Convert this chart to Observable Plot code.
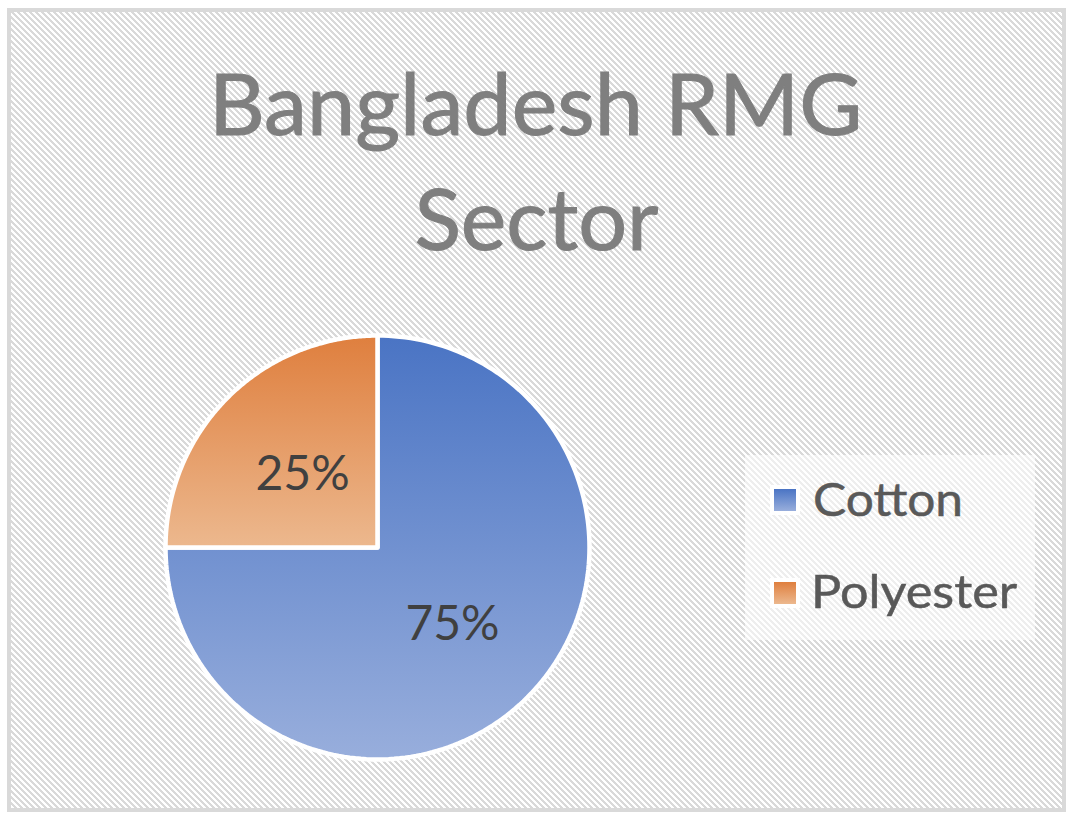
<!DOCTYPE html>
<html>
<head>
<meta charset="utf-8">
<script src="https://cdn.jsdelivr.net/npm/d3@7"></script>
<script src="https://cdn.jsdelivr.net/npm/@observablehq/plot@0.6"></script>
<style>
  html, body { margin: 0; padding: 0; background: #fff; }
  #chart { position: relative; width: 1074px; height: 820px; overflow: hidden; font-family: Lato, "Open Sans", sans-serif; }
  #frame { position: absolute; left: 7px; top: 8px; width: 1051px; height: 796px; border: 4px solid #d9d9d9;
    background-color: #fff; image-rendering: pixelated; }
  .txt { position: absolute; white-space: nowrap; line-height: normal; margin: 0; }
  #legendBox { position: absolute; left: 745px; top: 455px; width: 290px; height: 185px; background: rgba(255,255,255,0.55); }
  .sw { position: absolute; width: 22px; height: 22px; border: 4px solid #fff; }
  #plotHolder { position: absolute; left: 0; top: 290px; }
</style>
</head>
<body>
<svg width="0" height="0" style="position:absolute">
  <defs>
    <linearGradient id="grad-cotton" x1="0" y1="0" x2="0" y2="1">
      <stop offset="0" stop-color="#4a74c4"/>
      <stop offset="1" stop-color="#98aedc"/>
    </linearGradient>
    <linearGradient id="grad-polyester" x1="0" y1="0" x2="0" y2="1">
      <stop offset="0" stop-color="#df7f3e"/>
      <stop offset="1" stop-color="#ecb88e"/>
    </linearGradient>
  </defs>
</svg>
<div id="chart">
  <div id="frame"></div>
  <div id="legendBox"></div>
  <div id="plotHolder"></div>
</div>
<script>
// ---- data ----
const categories = ["Cotton", "Polyester"];
const shares = [75, 25];
const shareLabels = ["75%", "25%"];
const gradients = ["url(#grad-cotton)", "url(#grad-polyester)"];
const legendGradients = ["linear-gradient(#4a74c4, #98aedc)", "linear-gradient(#df7f3e, #ecb88e)"];
const titleLines = ["Bangladesh RMG", "Sector"];

// ---- hatched chart-area background (light downward diagonal) ----
(function () {
  const c = document.createElement("canvas");
  c.width = 6; c.height = 6;
  const g = c.getContext("2d");
  g.fillStyle = "#ffffff"; g.fillRect(0, 0, 6, 6);
  g.fillStyle = "#d9d9d9";
  for (let y = 0; y < 6; ++y) for (let x = 0; x < 6; ++x) if (((x - y) % 6 + 6) % 6 < 3) g.fillRect(x, y, 1, 1);
  const f = document.getElementById("frame");
  f.style.backgroundImage = `url(${c.toDataURL()})`;
  f.style.backgroundSize = "6px 6px";
})();

// ---- pie geometry from data ----
const arcs = d3.pie().sort(null).value(d => d)(shares);
const slices = arcs.map((a, i) => {
  const pts = [{x: 0, y: 0}];
  const n = 180;
  for (let k = 0; k <= n; ++k) {
    const t = a.startAngle + (a.endAngle - a.startAngle) * k / n;
    pts.push({x: Math.sin(t), y: Math.cos(t)});
  }
  pts.push({x: 0, y: 0});
  return {name: categories[i], pts};
});
const labelData = arcs.map((a, i) => {
  const m = (a.startAngle + a.endAngle) / 2;
  return {x: 0.5 * Math.sin(m), y: 0.5 * Math.cos(m), label: shareLabels[i]};
});

const plot = Plot.plot({
  width: 1074,
  height: 510,
  margin: 0,
  x: {domain: [-1, 1], range: [165, 589], axis: null},
  y: {domain: [-1, 1], range: [469, 45], axis: null},
  style: {background: "transparent", overflow: "visible"},
  marks: [
    ...slices.map((s, i) => Plot.line(s.pts, {
      x: "x", y: "y", fill: gradients[i], stroke: "#ffffff", strokeWidth: 4.5, strokeLinejoin: "round"
    })),
    Plot.text(labelData, {
      x: "x", y: "y", text: "label", fontSize: 48, dy: 2, fill: "#404040", fontFamily: "Lato, 'Open Sans', sans-serif"
    })
  ]
});
document.getElementById("plotHolder").appendChild(plot);

// ---- title and legend text ----
const chart = document.getElementById("chart");
const canvas = document.createElement("canvas");
const ctx = canvas.getContext("2d");
function placeText(text, {size, color, baseline, width, center, left, stroke}) {
  const el = document.createElement("div");
  el.className = "txt";
  el.textContent = text;
  el.style.fontSize = size + "px";
  el.style.color = color;
  if (stroke) el.style.webkitTextStroke = stroke + "px " + color;
  el.style.top = "0px";
  el.style.left = "0px";
  chart.appendChild(el);
  const probe = document.createElement("span");
  probe.style.display = "inline-block";
  probe.style.width = "0px";
  probe.style.height = "0px";
  el.appendChild(probe);
  const cRect = chart.getBoundingClientRect();
  const baseY = probe.getBoundingClientRect().top - cRect.top;
  el.removeChild(probe);
  ctx.font = size + "px Lato";
  const m = ctx.measureText(text);
  const inkW = m.actualBoundingBoxLeft + m.actualBoundingBoxRight;
  const k = width / inkW;
  el.style.top = (baseline - baseY) + "px";
  if (center != null) {
    el.style.left = (center - m.width / 2) + "px";
    el.style.transformOrigin = "50% 50%";
  } else {
    el.style.left = (left + m.actualBoundingBoxLeft) + "px";
    el.style.transformOrigin = "0% 50%";
  }
  el.style.transform = `scaleX(${k})`;
  return el;
}
placeText(titleLines[0], {size: 85, color: "#7f7f7f", baseline: 135, width: 642, center: 536, stroke: 1});
placeText(titleLines[1], {size: 85, color: "#7f7f7f", baseline: 250, width: 242, center: 536, stroke: 1});

const legendY = [{sw: 489, base: 516, w: 145}, {sw: 582, base: 608, w: 202}];
categories.forEach((c, i) => {
  const sw = document.createElement("div");
  sw.className = "sw";
  sw.style.left = (774 - 4) + "px";
  sw.style.top = (legendY[i].sw - 4) + "px";
  sw.style.background = legendGradients[i];
  chart.appendChild(sw);
  placeText(c, {size: 46, color: "#595959", baseline: legendY[i].base, width: legendY[i].w, left: 815, stroke: 0.5});
});
</script>
</body>
</html>
